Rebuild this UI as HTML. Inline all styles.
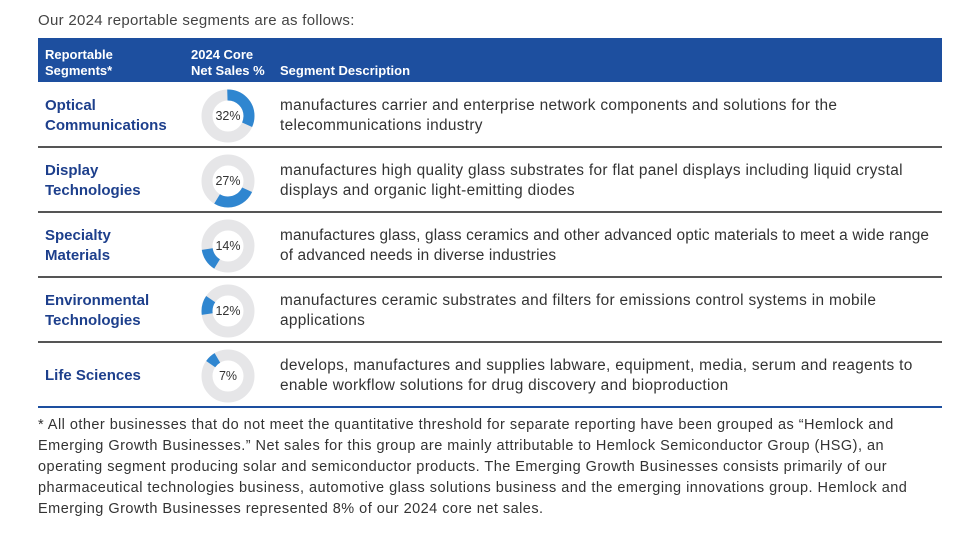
<!DOCTYPE html>
<html><head><meta charset="utf-8"><style>
body{margin:0;width:960px;height:540px;background:#fff;position:relative;overflow:hidden;font-family:"Liberation Sans",sans-serif;}
.a{position:absolute;white-space:nowrap;}
.t{left:38px;top:12px;font-size:15px;letter-spacing:0.3px;color:#444;}
.hdr{left:38px;top:38px;width:904px;height:44px;background:#1d4f9f;}
.h{color:#fff;font-weight:bold;font-size:13px;line-height:16px;}
.lab{left:45px;color:#1d3f8c;font-weight:bold;font-size:15px;line-height:20px;}
.d{left:280px;color:#333;font-size:15.4px;letter-spacing:0.32px;line-height:20px;}
.ln{left:38px;width:904px;height:2px;background:#555;}
.fn{left:38px;top:415px;color:#333;font-size:14.5px;letter-spacing:0.47px;line-height:21px;}
svg.dn{position:absolute;left:201px;width:54px;height:54px;}
.pc{position:absolute;left:201px;width:54px;text-align:center;font-size:12.5px;color:#333;}
</style></head><body>
<div class="a t">Our 2024 reportable segments are as follows:</div>
<div class="a hdr"></div>
<div class="a h" style="left:45px;top:47px">Reportable<br>Segments*</div>
<div class="a h" style="left:191px;top:47px">2024 Core<br>Net Sales %</div>
<div class="a h" style="left:280px;top:63px">Segment Description</div>

<div class="a lab" style="top:96px">Optical<br>Communications</div>
<div class="a d" style="top:96px">manufactures carrier and enterprise network components and solutions for the<br>telecommunications industry</div>
<div class="a ln" style="top:146px"></div>

<div class="a lab" style="top:161px">Display<br>Technologies</div>
<div class="a d" style="top:161px">manufactures high quality glass substrates for flat panel displays including liquid crystal<br>displays and organic light-emitting diodes</div>
<div class="a ln" style="top:211px"></div>

<div class="a lab" style="top:226px">Specialty<br>Materials</div>
<div class="a d" style="top:226px;letter-spacing:0.15px">manufactures glass, glass ceramics and other advanced optic materials to meet a wide range<br>of advanced needs in diverse industries</div>
<div class="a ln" style="top:276px"></div>

<div class="a lab" style="top:291px">Environmental<br>Technologies</div>
<div class="a d" style="top:291px">manufactures ceramic substrates and filters for emissions control systems in mobile<br>applications</div>
<div class="a ln" style="top:341px"></div>

<div class="a lab" style="top:366px">Life Sciences</div>
<div class="a d" style="top:356px">develops, manufactures and supplies labware, equipment, media, serum and reagents to<br>enable workflow solutions for drug discovery and bioproduction</div>
<div class="a ln" style="top:406px;background:#1d4f9f"></div>

<svg class="dn" style="top:89px" viewBox="0 0 54 54"><circle cx="27" cy="27" r="21" fill="none" stroke="#e6e6e8" stroke-width="11"/><circle cx="27" cy="27" r="21" fill="none" stroke="#2f86d0" stroke-width="11" pathLength="100" stroke-dasharray="32 68" stroke-dashoffset="0" transform="rotate(-90 27 27)"/></svg>
<div class="pc" style="top:109px">32%</div>
<svg class="dn" style="top:154px" viewBox="0 0 54 54"><circle cx="27" cy="27" r="21" fill="none" stroke="#e6e6e8" stroke-width="11"/><circle cx="27" cy="27" r="21" fill="none" stroke="#2f86d0" stroke-width="11" pathLength="100" stroke-dasharray="27 73" stroke-dashoffset="-32" transform="rotate(-90 27 27)"/></svg>
<div class="pc" style="top:174px">27%</div>
<svg class="dn" style="top:219px" viewBox="0 0 54 54"><circle cx="27" cy="27" r="21" fill="none" stroke="#e6e6e8" stroke-width="11"/><circle cx="27" cy="27" r="21" fill="none" stroke="#2f86d0" stroke-width="11" pathLength="100" stroke-dasharray="14 86" stroke-dashoffset="-59" transform="rotate(-90 27 27)"/></svg>
<div class="pc" style="top:239px">14%</div>
<svg class="dn" style="top:284px" viewBox="0 0 54 54"><circle cx="27" cy="27" r="21" fill="none" stroke="#e6e6e8" stroke-width="11"/><circle cx="27" cy="27" r="21" fill="none" stroke="#2f86d0" stroke-width="11" pathLength="100" stroke-dasharray="12 88" stroke-dashoffset="-73" transform="rotate(-90 27 27)"/></svg>
<div class="pc" style="top:304px">12%</div>
<svg class="dn" style="top:349px" viewBox="0 0 54 54"><circle cx="27" cy="27" r="21" fill="none" stroke="#e6e6e8" stroke-width="11"/><circle cx="27" cy="27" r="21" fill="none" stroke="#2f86d0" stroke-width="11" pathLength="100" stroke-dasharray="7 93" stroke-dashoffset="-85" transform="rotate(-90 27 27)"/></svg>
<div class="pc" style="top:369px">7%</div>

<div class="a fn">* All other businesses that do not meet the quantitative threshold for separate reporting have been grouped as “Hemlock and<br>Emerging Growth Businesses.” Net sales for this group are mainly attributable to Hemlock Semiconductor Group (HSG), an<br>operating segment producing solar and semiconductor products. The Emerging Growth Businesses consists primarily of our<br>pharmaceutical technologies business, automotive glass solutions business and the emerging innovations group. Hemlock and<br>Emerging Growth Businesses represented 8% of our 2024 core net sales.</div>
</body></html>
